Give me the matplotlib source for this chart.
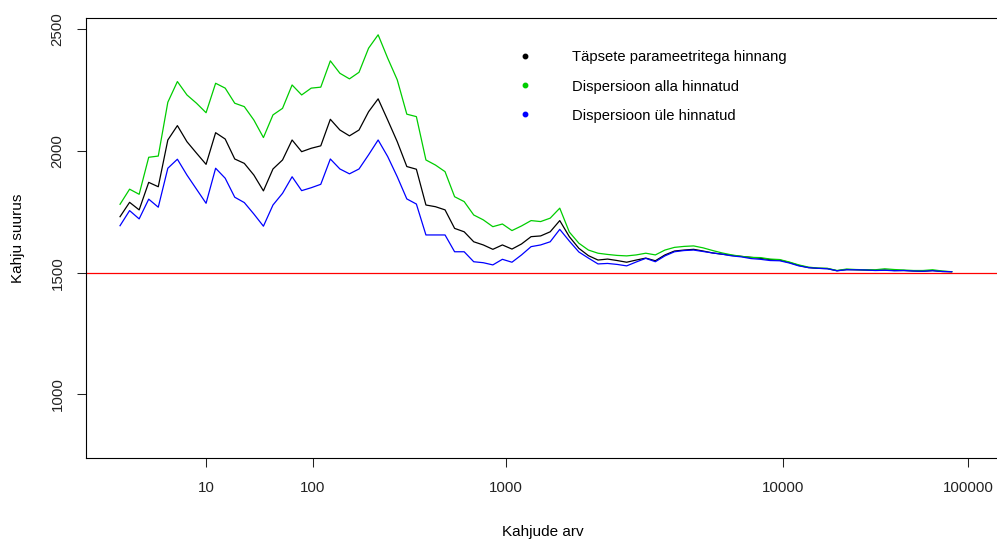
import matplotlib
matplotlib.use('Agg')
import matplotlib.pyplot as plt
from matplotlib.lines import Line2D
from matplotlib.ticker import NullLocator
import numpy as np

plt.rcParams['font.family'] = ['Liberation Sans', 'DejaVu Sans']

# loss size estimates, one value per sample-size step
tapne = [1730, 1789, 1758, 1871, 1853, 2045, 2104, 2038, 1991, 1945,
         2075, 2049, 1967, 1949, 1901, 1836, 1926, 1963, 2045, 1997,
         2011, 2021, 2130, 2086, 2062, 2086, 2161, 2214, 2127, 2038,
         1936, 1925, 1778, 1771, 1758, 1682, 1668, 1627, 1614, 1596,
         1614, 1597, 1618, 1648, 1651, 1668, 1714, 1648, 1600, 1570,
         1552, 1556, 1550, 1543, 1552, 1560, 1549, 1573, 1589, 1593,
         1596, 1589, 1581, 1576, 1571, 1567, 1563, 1559, 1554, 1552,
         1542, 1530, 1521, 1518, 1517, 1508, 1513, 1512, 1511, 1510,
         1511, 1509, 1509, 1507, 1506, 1509, 1505, 1504]
alla = [1781, 1843, 1822, 1974, 1979, 2200, 2285, 2230, 2196, 2157,
        2278, 2258, 2196, 2182, 2127, 2055, 2148, 2175, 2271, 2230,
        2258, 2262, 2370, 2319, 2296, 2323, 2422, 2477, 2381, 2292,
        2151, 2141, 1963, 1942, 1915, 1812, 1792, 1737, 1717, 1689,
        1700, 1673, 1692, 1714, 1710, 1724, 1765, 1667, 1621, 1593,
        1580, 1575, 1571, 1569, 1573, 1580, 1573, 1593, 1604, 1608,
        1610, 1602, 1591, 1581, 1573, 1567, 1563, 1562, 1556, 1554,
        1544, 1532, 1523, 1519, 1518, 1509, 1515, 1513, 1512, 1512,
        1516, 1513, 1511, 1509, 1509, 1512, 1507, 1504]
ule = [1693, 1755, 1721, 1802, 1769, 1929, 1966, 1901, 1843, 1785,
       1929, 1888, 1810, 1788, 1741, 1691, 1778, 1826, 1894, 1837,
       1849, 1863, 1967, 1926, 1906, 1926, 1984, 2045, 1977, 1894,
       1803, 1782, 1655, 1655, 1655, 1586, 1586, 1545, 1541, 1532,
       1555, 1543, 1573, 1607, 1614, 1627, 1678, 1630, 1585, 1560,
       1536, 1538, 1534, 1528, 1544, 1559, 1545, 1569, 1586, 1591,
       1593, 1587, 1581, 1576, 1569, 1565, 1558, 1555, 1550, 1549,
       1540, 1528, 1521, 1518, 1516, 1508, 1512, 1512, 1511, 1509,
       1510, 1508, 1509, 1507, 1506, 1508, 1505, 1504]
tegelik = 1500

# x axis labels sit at the step index where that sample size is reached
tick_pos = [10, 21.19, 41.38, 70.35, 89.7]
tick_lab = ['10', '100', '1000', '10000', '100000']
y_ticks = [1000, 1500, 2000, 2500]

x = np.arange(1, len(tapne) + 1)

fig = plt.figure(figsize=(9.97, 5.40), dpi=100)
ax = fig.add_axes([86/997, 82/540, 911/997, 440/540])

ax.plot(x, tapne, color='black', lw=0.9)
ax.plot(x, alla, color='#00cd00', lw=0.9)
ax.plot(x, ule, color='blue', lw=0.9)
ax.axhline(tegelik, color='red', lw=0.9)

ax.set_xlim(-2.56, 92.74)
ax.set_ylim(739, 2546)

ax.set_xticks(tick_pos)
ax.set_xticklabels(tick_lab)
ax.xaxis.set_minor_locator(NullLocator())
ax.set_yticks(y_ticks)
ax.set_yticklabels([str(v) for v in y_ticks], rotation=90, va='center')
ax.tick_params(axis='both', direction='out', length=6.5, width=0.75,
               labelsize=10.8, colors='#222222', right=False, top=False)
ax.tick_params(axis='x', pad=10)
ax.tick_params(axis='y', pad=9)
for s in ax.spines.values():
    s.set_linewidth(0.8)
ax.spines['right'].set_visible(False)

ax.set_xlabel('Kahjude arv', fontsize=11)
ax.set_ylabel('Kahju suurus', fontsize=11)
ax.xaxis.set_label_coords(457/911, -0.152)
ax.yaxis.set_label_coords(-0.067, 0.5)

handles = [Line2D([], [], marker='o', ms=3.2, ls='', color=c)
           for c in ['black', '#00cd00', 'blue']]
labels = ['Täpsete parameetritega hinnang', 'Dispersioon alla hinnatud',
          'Dispersioon üle hinnatud']
ax.legend(handles, labels, loc='upper left', bbox_to_anchor=(517.6/997, 1 - 50.5/540),
          bbox_transform=fig.transFigure, frameon=False, fontsize=10.6,
          borderpad=0, borderaxespad=0, handletextpad=2.68,
          labelspacing=1.02, handlelength=1.0)

fig.savefig('out.png', dpi=100)
